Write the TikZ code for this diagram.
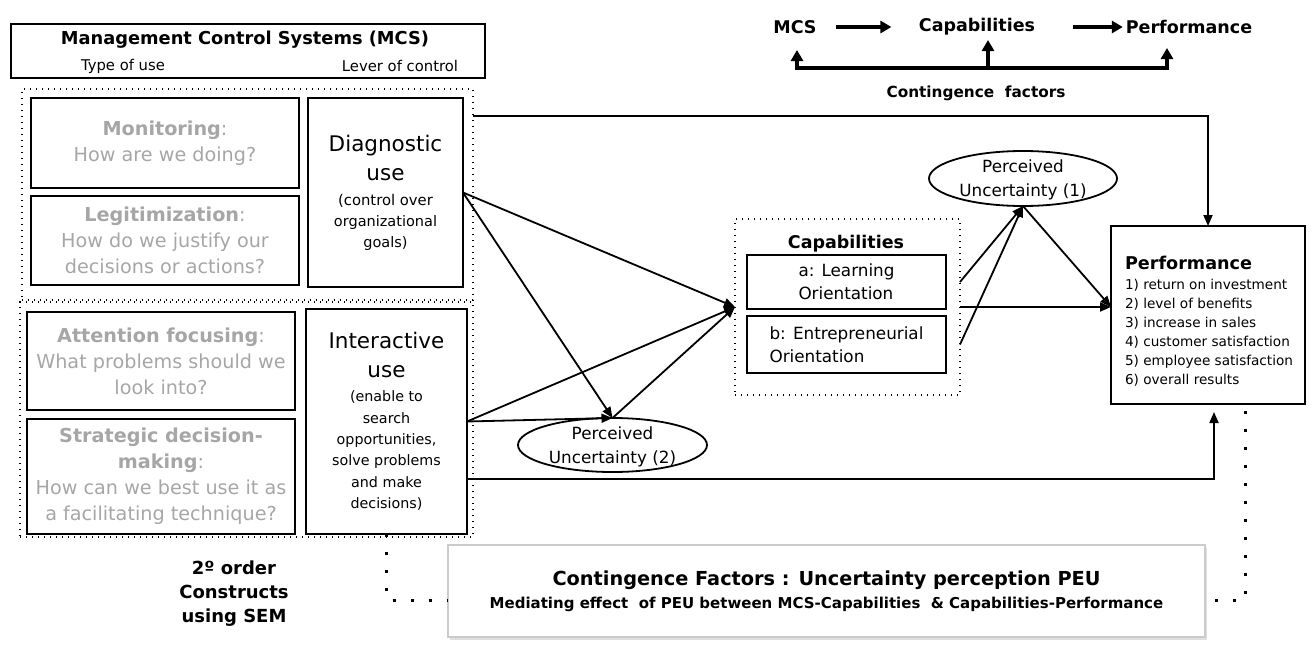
\documentclass[tikz,border=0pt]{standalone}
\usepackage{fontspec}
\setmainfont{DejaVu Sans}
\usetikzlibrary{arrows.meta,shapes.geometric,shadows}

\definecolor{muted}{HTML}{A6A6A6}
\definecolor{frameGray}{HTML}{CBCBCB}
\newcommand{\setfs}[2]{\fontsize{#1}{#2}\selectfont}

\begin{document}
\begin{tikzpicture}[x=1pt, y=-1pt,
  every node/.style={inner sep=0pt, outer sep=0pt},
  box/.style={draw, line width=1.8pt, align=center},
  greybox/.style={box, text=muted, font=\setfs{19.2}{26}},
  zone/.style={draw, line width=1.3pt, dash pattern=on 1.3pt off 4.7pt},
  oval/.style={ellipse, draw, line width=1.8pt},
  arr/.style={line width=1.8pt, -{Triangle[length=11pt,width=9pt]}},
  thickarr/.style={line width=3.5pt, -{Triangle[length=11pt,width=12pt]}},
  bigdots/.style={line width=3pt, dash pattern=on 3pt off 15pt},
  minilabel/.style={font=\setfs{17.5}{20}\bfseries}
]
\useasboundingbox (0,0) rectangle (1312,656);

% ---------- header of the MCS column ----------
\node[box, minimum width=474pt, minimum height=54pt] (mcs) at (248,51) {};
\node[font=\setfs{17.8}{20}\bfseries] (mcstitle) at (245,40) {Management Control Systems (MCS)};
\node[font=\setfs{14.8}{18}] (typeuse) at (123,66) {Type of use};
\node[font=\setfs{14.8}{18}] (lever) at (400,66) {Lever of control};

% ---------- dotted groups: diagnostic and interactive levers ----------
\node[zone, minimum width=451pt, minimum height=211pt] (diagzone) at (247.5,194.5) {};
\node[zone, minimum width=453pt, minimum height=235pt] (interzone) at (246.5,419.5) {};

% ---------- types of use ----------
\node[greybox, minimum width=268pt, minimum height=90pt] (mon) at (165,143)
  {\textbf{Monitoring}:\\How are we doing?};
\node[greybox, minimum width=268pt, minimum height=89pt] (leg) at (165,240.5)
  {\textbf{Legitimization}:\\How do we justify our\\decisions or actions?};
\node[greybox, minimum width=268pt, minimum height=98pt] (att) at (161,361)
  {\textbf{Attention focusing}:\\What problems should we\\look into?};
\node[greybox, minimum width=268pt, minimum height=115pt] (strat) at (161,476.5)
  {\textbf{Strategic decision-}\\\textbf{making}:\\How can we best use it as\\a facilitating technique?};

% ---------- levers of control ----------
\node[box, minimum width=155pt, minimum height=189pt, font=\setfs{14.5}{21}] (diag) at (385.5,192.5)
  {\setfs{21.5}{29}Diagnostic\\[8pt]\setfs{21.5}{29}use\\[4pt]\setfs{14.8}{21}(control over\\\setfs{14.5}{21}organizational\\\setfs{14.5}{21}goals)};
\node[box, minimum width=161pt, minimum height=225pt, font=\setfs{14.3}{21.3}] (inter) at (386.5,421.5)
  {\setfs{21.5}{29}Interactive\\[7.7pt]\setfs{21.5}{29}use\\[2.7pt]\setfs{14.3}{21.3}(enable to\\\setfs{14.3}{21.3}search\\\setfs{14.3}{21.3}opportunities,\\\setfs{14.3}{21.3}solve problems\\\setfs{14.3}{21.3}and make\\\setfs{14.3}{21.3}decisions)};

\node[font=\setfs{18}{24}\bfseries, align=center] (sem) at (234,594) {2º order\\Constructs\\using SEM};

% ---------- capabilities ----------
\node[zone, minimum width=225pt, minimum height=176pt] (capzone) at (847.5,307) {};
\node[font=\setfs{17.5}{20}\bfseries] (captitle) at (846,244) {Capabilities};
\node[box, minimum width=199pt, minimum height=54pt, font=\setfs{16.8}{23}, align=left] (capa) at (846.5,282)
  {a: Learning\\Orientation};
\node[box, minimum width=199pt, minimum height=57pt, font=\setfs{16.8}{23}, align=left] (capb) at (846.5,344.5)
  {b: Entrepreneurial\\Orientation};

% ---------- perceived uncertainty ----------
\node[oval, minimum width=188pt, minimum height=55pt] (pu1) at (1023,178.5) {};
\node[font=\setfs{16.8}{24}, align=center] (pu1txt) at (1023,180) {Perceived\\Uncertainty (1)};
\node[oval, minimum width=189pt, minimum height=54pt] (pu2) at (612.5,445) {};
\node[font=\setfs{16.8}{24}, align=center] (pu2txt) at (612.5,447) {Perceived\\Uncertainty (2)};

% ---------- performance ----------
\node[box, minimum width=194pt, minimum height=178pt] (perf) at (1208,315) {};
\node[font=\setfs{13.6}{19}, align=left] (perftxt) at (1209,321)
  {\setfs{17.6}{20}\bfseries Performance\\[1pt]1) return on investment\\2) level of benefits\\3) increase in sales\\4) customer satisfaction\\5) employee satisfaction\\6) overall results};

% ---------- contingence factors ----------
\node[draw=frameGray, line width=1.5pt, fill=white, align=center,
      drop shadow={shadow xshift=1.5pt, shadow yshift=-3pt, opacity=0.25},
      minimum width=757pt, minimum height=92pt, font=\setfs{15}{23}\bfseries] (cont) at (826.5,591)
  {\setfs{19.3}{23}\bfseries Contingence Factors : Uncertainty perception PEU\\\setfs{15}{23}\bfseries Mediating effect\ \ of PEU between MCS-Capabilities\ \ \& Capabilities-Performance};

% ---------- connectors ----------
\draw[arr] (diag.east) -- (capzone.west);
\draw[arr] (diag.east) -- (pu2.north);
\draw[arr] (inter.east) -- (capzone.west);
\draw[arr] (inter.east) -- (pu2.north);
\draw[arr] (pu2.north) -- (capzone.west);

\coordinate (dtop) at (473,116);
\draw[arr] (dtop) -| (perf.north);
\coordinate (ilow) at (467,479);
\coordinate (perfbase) at (1214,404);
\draw[arr, shorten >=8pt] (ilow) -| (perfbase);

\draw[arr] (capzone.east) -- (capzone.east -| perf.west);
\draw[arr] (capzone.east |- capa.east) -- (pu1.south);
\draw[arr] (capzone.east |- capb.east) -- (pu1.south);
\draw[arr] (pu1.south) -- (capzone.east -| perf.west);

\coordinate (contL) at (448,600);
\draw[bigdots] (inter.south) |- (contL);
\coordinate (perfdot) at (1245,411);
\coordinate (contR) at (1208,600);
\draw[bigdots] (perfdot) |- (contR);

% ---------- summary scheme, top right ----------
\node[minilabel] (mMCS) at (795,27) {MCS};
\node[minilabel] (mCap) at (977,27) {Capabilities};
\node[minilabel] (mPerf) at (1189,27) {Performance};
\node[font=\setfs{15.3}{18}\bfseries] (mCont) at (976,93) {Contingence\ \ factors};
\draw[thickarr, shorten <=19.5pt, shorten >=27.5pt] (mMCS.east) -- (mCap.west);
\draw[thickarr, shorten <=37.5pt, shorten >=3pt] (mCap.east) -- (mPerf.west);
\coordinate (barL) at (797,68);
\coordinate (barM) at (988,68);
\coordinate (barR) at (1167,68);
\coordinate (tipL) at (797,50);
\coordinate (tipM) at (988,40);
\coordinate (tipR) at (1167,48);
\draw[line width=3.5pt, {Triangle[length=11pt,width=12pt]}-{Triangle[length=11pt,width=12pt]}]
  (tipL) -- (barL) -- (barR) -- (tipR);
\draw[thickarr] (barM) -- (tipM);
\end{tikzpicture}
\end{document}
